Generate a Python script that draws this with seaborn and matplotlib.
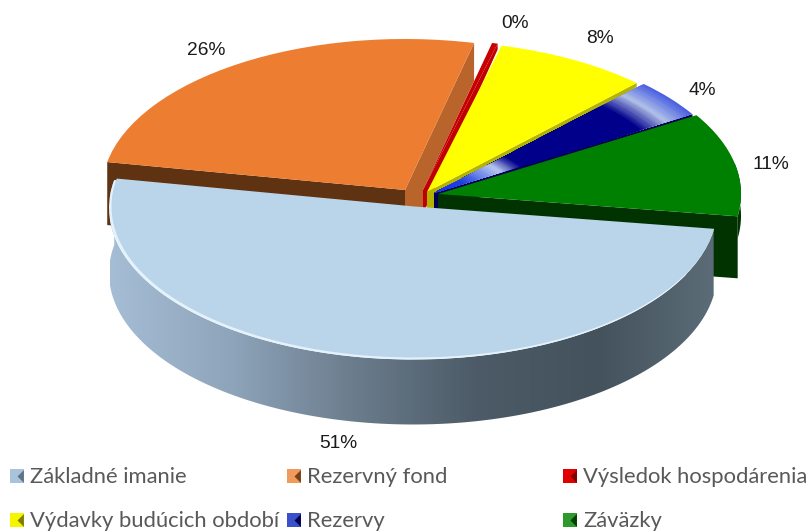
import matplotlib
matplotlib.use("Agg")
import matplotlib.pyplot as plt
import numpy as np
import seaborn as sns
from matplotlib.patches import Polygon

sns.set_theme(style="white")

# data
categorias = ["Základné imanie", "Rezervný fond", "Výsledok hospodárenia",
              "Výdavky budúcich období", "Rezervy", "Záväzky"]
valores = [50.6, 25.7, 0.3, 8.2, 4.1, 11.1]
rotulos = ["51%", "26%", "0%", "8%", "4%", "11%"]
cores = ["#bad4ea", "#ed7d31", "#c80000", "#ffff00", "#00008b", "#008000"]

W, H = 811, 531
RAIO = 303
ESCALA_Y = 303 / 151  # squashes the circle into the tilted ellipse
INICIO = -8.5


def py(y):
    return (H - y) * ESCALA_Y


def ponto(cx, cy, ang, prof=0, raio=RAIO):
    a = np.radians(ang)
    return cx + raio * np.cos(a), py(cy + prof) + raio * np.sin(a)


def fatia(ax, valor, ang, cor, cx, cy, z, raio=RAIO):
    ax.pie([valor, 100 - valor], startangle=ang, counterclock=False,
           colors=[cor, "none"], center=(cx, py(cy)), radius=raio,
           wedgeprops={"linewidth": 0, "zorder": z})


def face_radial(ax, cx, cy, ang, prof_fora, prof_dentro, cor, z, folga=0):
    pts = [(cx, py(cy)), ponto(cx, cy, ang), ponto(cx, cy, ang, prof_fora)]
    if folga:
        pts += [(cx + folga, py(cy)), (cx + folga, py(cy + prof_dentro))]
    pts.append((cx, py(cy + prof_dentro)))
    ax.add_patch(Polygon(pts, closed=True, fc=cor, lw=0, zorder=z))


def borda(cx, cy, a0, a1, prof, raio=RAIO):
    angs = np.linspace(a0, a1, 200)
    topo = [ponto(cx, cy, a, raio=raio) for a in angs]
    base = [ponto(cx, cy, a, prof, raio=raio) for a in angs[::-1]]
    return Polygon(topo + base, closed=True, lw=0)


fig = plt.figure(figsize=(W / 100, H / 100), dpi=100)
ax = fig.add_axes([0, 0, 1, 1])

limites = INICIO - np.cumsum([0] + [v * 3.6 for v in valores])
ini = limites[:-1]
fim = limites[1:]

# Rezervny fond
face_radial(ax, 405, 190, ini[1], 63, 63, "#5f3311", 2)
face_radial(ax, 405, 190, fim[1], 38, 38, "#b8642b", 2, folga=18)
fatia(ax, valores[1], ini[1], cores[1], 405, 190, 3)

# Vysledok hospodarenia
face_radial(ax, 423, 190, fim[2], 6, 24, "#c00000", 4)
fatia(ax, valores[2], ini[2], cores[2], 423, 190, 5)

# Vydavky buducich obdobi
face_radial(ax, 427, 192, fim[3], 4, 22, "#b3b300", 6)
fatia(ax, valores[3], ini[3], cores[3], 427, 192, 7)

# Rezervy: radial gradient on the top
face_radial(ax, 434, 193, fim[4], 5, 20, "#000055", 8)
paradas = [(0.0, "#1030ff"), (0.12, "#2040e0"), (0.26, "#b8c8f0"), (0.34, "#00008b"),
           (0.80, "#00008b"), (0.90, "#b0c0e8"), (1.0, "#4a60e0")]
raios = np.linspace(1, 0.02, 120)
tons = sns.blend_palette([c for _, c in paradas], n_colors=121)
pos = np.interp(raios, [p for p, _ in paradas], np.linspace(0, 1, len(paradas)))
for r, t in zip(raios, pos):
    fatia(ax, valores[4], ini[4], tons[int(t * 120)], 434, 193, 9, raio=RAIO * r)

# Zavazky
lado_verde = borda(438, 194, 12, fim[5] + 360, 22)
lado_verde.set(fc="#003300", zorder=10)
ax.add_patch(lado_verde)
face_radial(ax, 438, 194, fim[5], 62, 62, "#003300", 10)
fatia(ax, valores[5], ini[5], cores[5], 438, 194, 11)

# Zakladne imanie: side with a horizontal metallic gradient
grad = sns.blend_palette(["#a5bdd5", "#8ea4ba", "#6b7c8c", "#4c5b67", "#44525c", "#5c6d79"],
                         n_colors=256)
lado = borda(413, 208, ini[0], fim[0], 65, raio=304)
lado.set(fc="none")
im = ax.imshow(np.array(grad)[None, :, :], extent=(110, 720, 0, py(0)), aspect="auto", zorder=12)
ax.add_patch(lado)
im.set_clip_path(lado)
fatia(ax, valores[0], ini[0], "#e4f2fc", 413, 208, 13, raio=304)
fatia(ax, valores[0], ini[0], cores[0], 414.5, 206.5, 14, raio=303)

# rotulos de porcentagem
pos_rotulos = [(338, 444), (206, 51), (515, 24), (600, 39), (702, 91), (771, 165)]
for txt, (x, y) in zip(rotulos, pos_rotulos):
    ax.text(x, py(y), txt, fontsize=13.8, family="Liberation Sans", color="#1a1a1a",
            ha="center", va="center", zorder=20)

# legenda
pos_legenda = [(17, 476), (294, 476), (570, 476), (17, 520), (294, 520), (570, 520)]
bases = ["#a9c3da", "#f09a5c", "#e00000", "#f5f500", "#3a50c8", "#2e9a2e"]
escuras = ["#5f7386", "#7a4018", "#800000", "#7d7d00", "#000055", "#004000"]
chanfro = [(0, 0), (1, 1), (1, -1)]
for nome, base, esc, (x, y) in zip(categorias, bases, escuras, pos_legenda):
    ax.scatter(x, py(y), marker="s", s=115, color=base, linewidths=0, zorder=20)
    ax.scatter(x, py(y), marker=chanfro, s=85, color=esc, linewidths=0, zorder=21)
    ax.text(x + 13, py(y + 1), nome, fontsize=15.8, family="Lato", color="#595959",
            ha="left", va="center", zorder=20)

ax.set_aspect("auto")
ax.set(xlim=(0, W), ylim=(0, py(0)))
ax.axis("off")
fig.savefig("out.png", dpi=100, facecolor="white")
